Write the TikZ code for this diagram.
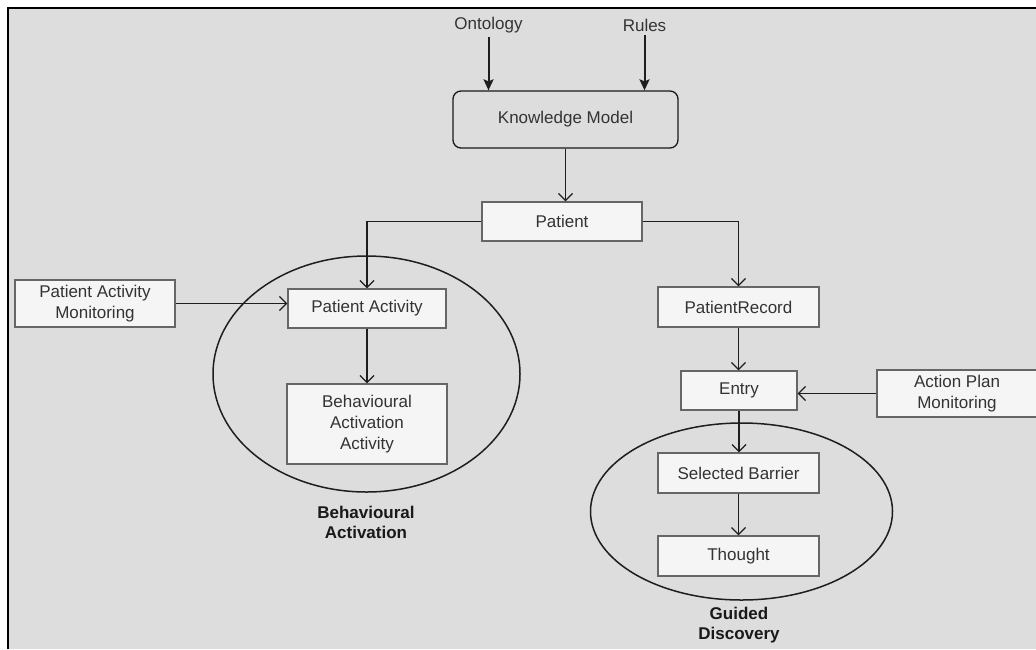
\documentclass[tikz,border=0pt]{standalone}
\usepackage{fontspec}
\setmainfont{Liberation Sans}
\usetikzlibrary{arrows.meta,shapes.geometric}
\definecolor{canvas}{HTML}{DDDDDD}
\definecolor{boxfill}{HTML}{F5F5F5}
\definecolor{boxline}{HTML}{666666}
\definecolor{boxtext}{HTML}{333333}
\definecolor{wire}{HTML}{1E1E1E}
\begin{document}
\begin{tikzpicture}[x=1pt,y=-1pt,
  every node/.style={font=\fontsize{17}{21}\selectfont},
  block/.style={draw=boxline, fill=boxfill, text=boxtext, line width=1.2pt,
    inner sep=0pt, align=center},
  source/.style={text=boxtext, inner xsep=0pt, inner ysep=4pt},
  group/.style={ellipse, draw=wire, line width=1.5pt, inner sep=0pt},
  grouplabel/.style={font=\fontsize{17}{20}\selectfont\bfseries, text=black!90, align=center},
  link/.style={draw=wire, line width=1.3pt, -{Straight Barb[length=7pt,width=14pt,line width=1.3pt]}},
  feed/.style={draw=wire, line width=2pt, -{Stealth[length=11pt,width=10pt,inset=2pt]}}
]
\useasboundingbox (0,0) rectangle (1036,649);
% canvas and its frame
\fill[canvas] (8,8) rectangle (1036,649);
\draw[black, line width=2.5pt] (8,649) -- (8,8) -- (1036,8);

% groups
\node[group, minimum width=307pt, minimum height=236pt] (grpBA) at (366.5,374) {};
\node[group, minimum width=302pt, minimum height=177pt] (grpGD) at (741.5,511.5) {};
\node[grouplabel] (lblBA) at (366,522) {Behavioural\\Activation};
\node[grouplabel] (lblGD) at (739,625) {Guided\\Discovery};

% inputs
\node[source] (ont) at (488.5,25) {Ontology};
\node[source] (rules) at (644.5,25) {Rules};

% knowledge model
\node[draw=black!90, line width=1.3pt, rounded corners=8pt, text=boxtext,
  minimum width=225pt, minimum height=57pt] (km) at (565.5,119.5) {Knowledge Model};

% boxes
\node[block, minimum width=160pt, minimum height=39pt] (pat) at (562,221.5) {Patient};
\node[block, minimum width=158pt, minimum height=39pt] (pa) at (367,308.5) {Patient Activity};
\node[block, minimum width=160pt, minimum height=47pt] (pam) at (95,303.5) {Patient Activity\\Monitoring};
\node[block, minimum width=160pt, minimum height=80pt] (baa) at (367,424) {Behavioural\\Activation\\Activity};
\node[block, minimum width=161pt, minimum height=40pt] (pr) at (738.5,307) {PatientRecord};
\node[block, minimum width=116pt, minimum height=39pt] (entry) at (739,390.5) {Entry};
\node[block, minimum width=160pt, minimum height=47pt] (apm) at (957,393.5) {Action Plan\\Monitoring};
\node[block, minimum width=161pt, minimum height=40pt] (sb) at (738.5,473) {Selected Barrier};
\node[block, minimum width=161pt, minimum height=40pt] (th) at (738.5,556) {Thought};

% connectors
\draw[feed] (ont.south) -- (ont.south |- km.north);
\draw[feed] (rules.south) -- (rules.south |- km.north);
\draw[link] (km.south) -- (km.south |- pat.north);
\draw[link] (pat.west) -| (pa.north);
\draw[link] (pat.east) -| (pr.north);
\draw[link] (pam.east) -- (pam.east -| pa.west);
\draw[link] (pa.south) -- (baa.north);
\draw[link] (pr.south) -- (pr.south |- entry.north);
\draw[link] (apm.west) -- (apm.west -| entry.east);
\draw[link] (entry.south) -- (entry.south |- sb.north);
\draw[link] (sb.south) -- (th.north);
\end{tikzpicture}
\end{document}
